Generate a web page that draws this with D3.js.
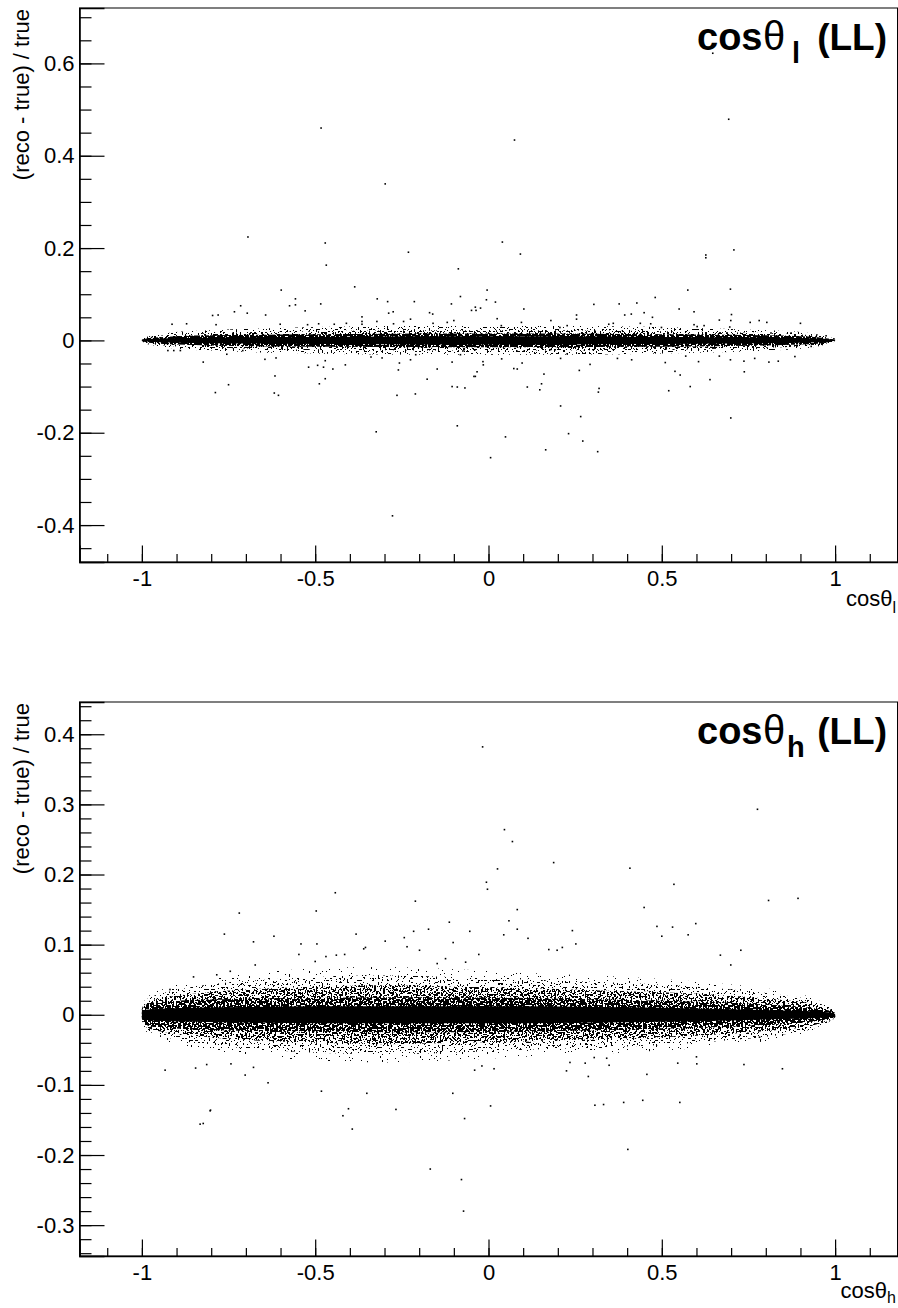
<!DOCTYPE html>
<html><head><meta charset="utf-8">
<script src="https://cdn.jsdelivr.net/npm/d3@7"></script>
<style>body{margin:0;background:#fff}svg{display:block}text{font-family:"Liberation Sans",Arial,sans-serif}</style>
</head><body><svg id="c" width="898" height="1308"></svg>
<script>
// ---------- DATA ----------
// Panel 1: cos theta_l (LL) — band envelopes (half-widths) of the dense event band
const bandX1  = [-1, -0.98, -0.95, -0.9, -0.8, -0.6, -0.4, -0.2, 0, 0.2, 0.4, 0.6, 0.8, 0.9, 0.95, 0.98, 1];
const solid1  = [0.001, 0.003, 0.004, 0.005, 0.006, 0.007, 0.008, 0.009, 0.009, 0.009, 0.008, 0.007, 0.006, 0.005, 0.004, 0.003, 0.001];
const dense1  = [0.002, 0.005, 0.007, 0.009, 0.011, 0.013, 0.014, 0.015, 0.015, 0.015, 0.014, 0.013, 0.011, 0.009, 0.007, 0.004, 0.002];
const mid1    = [0.003, 0.007, 0.01, 0.013, 0.016, 0.019, 0.021, 0.022, 0.022, 0.022, 0.021, 0.019, 0.016, 0.013, 0.01, 0.006, 0.003];
const sparse1 = [0.004, 0.009, 0.013, 0.018, 0.022, 0.027, 0.03, 0.031, 0.031, 0.031, 0.03, 0.027, 0.022, 0.018, 0.013, 0.008, 0.004];
const pts1X = [-0.694,-0.483,-0.471,-0.468,-0.298,-0.231,0.075,0.04,0.092,-0.087,0.627,0.627,0.708,0.693,0.647,
 -0.324,-0.09,0.006,0.049,0.165,0.231,0.266,0.272,0.315,0.699,-0.277,0.208,
 -0.598,-0.386,-0.557,-0.557,-0.574,-0.715,-0.733,-0.696,-0.529,-0.484,-0.321,-0.291,-0.214,-0.081,-0.107,-0.17,-0.161,-0.796,-0.78,-0.643,-0.365,-0.365,-0.365,-0.275,-0.288,-0.225,-0.913,-0.871,-0.786,-0.601,-0.522,-0.49,-0.445,-0.41,-0.322,-0.274,-0.245,-0.16,-0.119,-0.1,-0.049,-0.038,
 -0.925,-0.908,-0.889,-0.823,-0.755,-0.709,-0.645,-0.613,-0.519,-0.493,-0.471,-0.476,-0.449,-0.413,-0.488,-0.471,-0.616,-0.75,-0.788,-0.618,-0.606,-0.339,-0.307,-0.257,-0.26,-0.225,-0.21,-0.177,-0.148,-0.105,-0.081,-0.074,-0.264,-0.211,-0.105,-0.09,-0.068,-0.038,
 -0.004,-0.006,0.02,-0.036,-0.023,0.102,0.304,0.377,0.428,0.481,0.575,0.698,0.55,0.593,0.254,0.254,0.393,0.412,0.449,0.473,0.666,0.701,0.699,0.696,0.755,0.781,0.803,0.9,0.18,0.227,0.206,0.025,0.037,0.095,0.347,0.36,0.438,0.468,0.499,0.593,0.602,0.622,0.815,0.873,0.945,0.974,
 -0.042,-0.033,-0.016,-0.015,0.073,0.083,0.097,0.038,0.112,0.148,0.153,0.16,0.262,0.319,0.317,0.293,0.372,0.413,0.52,0.538,0.553,0.51,0.569,0.582,0.639,0.606,0.666,0.698,0.737,0.738,0.768,0.809,0.836,0.884,0.931,0.179,0.208,0.227];
const pts1Y = [0.224,0.46,0.211,0.163,0.339,0.191,0.434,0.213,0.187,0.155,0.185,0.179,0.196,0.479,0.622,
 -0.198,-0.185,-0.254,-0.209,-0.237,-0.202,-0.165,-0.218,-0.241,-0.168,-0.38,-0.142,
 0.109,0.116,0.09,0.077,0.075,0.075,0.062,0.059,0.064,0.079,0.09,0.084,0.084,0.095,0.079,0.06,0.057,0.054,0.055,0.055,0.051,0.041,0.035,0.062,0.059,0.046,0.035,0.036,0.034,0.035,0.034,0.036,0.035,0.037,0.041,0.036,0.041,0.037,0.039,0.043,0.065,0.072,
 -0.022,-0.022,-0.022,-0.047,-0.03,-0.022,-0.041,-0.038,-0.058,-0.054,-0.044,-0.058,-0.062,-0.053,-0.094,-0.083,-0.077,-0.096,-0.113,-0.114,-0.119,-0.036,-0.038,-0.049,-0.064,-0.042,-0.031,-0.084,-0.062,-0.047,-0.031,-0.023,-0.119,-0.116,-0.1,-0.101,-0.103,-0.078,
 0.109,0.088,0.083,0.065,0.07,0.068,0.078,0.079,0.081,0.093,0.109,0.111,0.068,0.062,0.055,0.046,0.055,0.057,0.06,0.05,0.044,0.056,0.043,0.029,0.039,0.043,0.039,0.037,0.043,0.032,0.028,0.047,0.032,0.039,0.035,0.037,0.037,0.036,0.028,0.034,0.03,0.032,0.016,0.016,0.008,0.01,
 -0.078,-0.068,-0.046,-0.053,-0.061,-0.062,-0.049,-0.04,-0.101,-0.107,-0.094,-0.073,-0.065,-0.104,-0.112,-0.052,-0.039,-0.042,-0.109,-0.067,-0.075,-0.048,-0.034,-0.1,-0.085,-0.046,-0.034,-0.042,-0.045,-0.068,-0.039,-0.047,-0.045,-0.035,-0.013,-0.02,-0.039,-0.029];

// Panel 2: cos theta_h (LL)
const bandX2  = [-1, -0.99, -0.97, -0.93, -0.85, -0.7, -0.5, -0.3, -0.1, 0.1, 0.3, 0.5, 0.7, 0.85, 0.93, 0.97, 0.99, 1];
const solid2  = [0.003, 0.007, 0.008, 0.009, 0.01, 0.011, 0.012, 0.012, 0.012, 0.012, 0.011, 0.01, 0.008, 0.006, 0.005, 0.004, 0.003, 0.001];
const vdense2 = [0.006, 0.014, 0.017, 0.019, 0.021, 0.023, 0.024, 0.025, 0.025, 0.024, 0.022, 0.02, 0.017, 0.013, 0.01, 0.007, 0.005, 0.003];
const dense2  = [0.007, 0.017, 0.021, 0.025, 0.03, 0.036, 0.04, 0.042, 0.04, 0.038, 0.035, 0.032, 0.027, 0.021, 0.016, 0.01, 0.007, 0.004];
const sparse2 = [0.008, 0.02, 0.026, 0.032, 0.04, 0.048, 0.054, 0.056, 0.054, 0.05, 0.047, 0.043, 0.036, 0.028, 0.021, 0.013, 0.008, 0.005];
const faint2  = [0.009, 0.022, 0.03, 0.038, 0.048, 0.058, 0.066, 0.068, 0.065, 0.06, 0.056, 0.051, 0.043, 0.034, 0.025, 0.016, 0.01, 0.006];
const pts2X = [-0.017,0.046,0.069,0.188,0.026,-0.006,-0.003,0.408,0.535,0.776,0.893,-0.442,
 -0.832,-0.823,-0.803,-0.393,-0.168,-0.078,-0.072,0.402,0.332,0.39,0.445,0.552,0.307,0.006,
 -0.719,-0.497,-0.211,-0.762,-0.619,-0.678,-0.541,-0.495,-0.382,-0.298,-0.243,-0.216,-0.173,-0.113,-0.102,-0.054,-0.355,-0.36,-0.235,-0.199,-0.547,-0.5,-0.469,-0.439,-0.415,-0.673,-0.745,-0.784,-0.851,-0.919,-0.148,-0.124,-0.066,-0.028,
 -0.933,-0.845,-0.813,-0.802,-0.743,-0.702,-0.678,-0.636,-0.482,-0.42,-0.404,-0.351,-0.267,-0.103,-0.069,
 0.083,0.449,0.808,0.059,0.083,0.044,0.486,0.531,0.598,0.576,0.5,0.242,0.114,0.728,0.669,0.699,0.174,0.198,0.213,0.252,
 0.288,0.457,0.225,0.235,0.279,0.305,0.341,0.348,0.546,0.601,0.6,0.737,0.848,-0.04,-0.019,0.016,0.782,0.726];
const pts2Y = [0.382,0.264,0.247,0.217,0.208,0.189,0.179,0.209,0.186,0.293,0.166,0.174,
 -0.156,-0.155,-0.137,-0.163,-0.22,-0.235,-0.28,-0.192,-0.128,-0.125,-0.122,-0.125,-0.129,-0.13,
 0.145,0.148,0.162,0.115,0.112,0.104,0.101,0.101,0.115,0.105,0.11,0.119,0.122,0.132,0.103,0.119,0.096,0.094,0.097,0.092,0.086,0.076,0.083,0.085,0.086,0.071,0.062,0.057,0.054,0.036,0.073,0.08,0.075,0.086,
 -0.079,-0.076,-0.071,-0.136,-0.07,-0.086,-0.075,-0.097,-0.109,-0.144,-0.134,-0.112,-0.135,-0.112,-0.148,
 0.15,0.153,0.163,0.134,0.122,0.114,0.126,0.125,0.13,0.114,0.112,0.12,0.109,0.092,0.085,0.071,0.093,0.092,0.096,0.101,
 -0.088,-0.085,-0.08,-0.068,-0.069,-0.061,-0.062,-0.072,-0.069,-0.07,-0.06,-0.071,-0.077,-0.079,-0.073,-0.077,-0.032,-0.029];

const yTicks1 = [-0.4, -0.2, 0, 0.2, 0.4, 0.6];
const yTicks2 = [-0.3, -0.2, -0.1, 0, 0.1, 0.2, 0.3, 0.4];
const xTicks  = [-1, -0.5, 0, 0.5, 1];

// ---------- DRAW ----------
const svg = d3.select("#c");
const defs = svg.append("defs");
// stipple texture (style only): thresholded noise, same seed so layers nest
function speckle(id, thr){
  const f = defs.append("filter").attr("id", id).attr("filterUnits","userSpaceOnUse")
    .attr("x",0).attr("y",0).attr("width",898).attr("height",1308)
    .attr("color-interpolation-filters","sRGB");
  f.append("feTurbulence").attr("type","fractalNoise").attr("baseFrequency",0.55).attr("numOctaves",1).attr("seed",5).attr("result","n");
  f.append("feColorMatrix").attr("in","n").attr("type","matrix")
   .attr("values","0 0 0 0 0  0 0 0 0 0  0 0 0 0 0  1 0 0 0 0").attr("result","a");
  f.append("feComponentTransfer").attr("in","a").attr("result","b")
   .append("feFuncA").attr("type","discrete")
   .attr("tableValues", d3.range(50).map(i => (i/50 >= thr ? 1 : 0)).join(" "));
  f.append("feComposite").attr("in","SourceGraphic").attr("in2","b").attr("operator","in");
}
speckle("p80", 0.40);
speckle("p70", 0.44);
speckle("p45", 0.52);
speckle("p30", 0.56);
speckle("p15", 0.62);
speckle("p05", 0.70);

const fmt = d => String(+d.toFixed(2));
const L = 79.5, R = 897.5;

function panel(o){
  const x = d3.scaleLinear().domain([-1.18, 1.18]).range([L, R]);
  const y = d3.scaleLinear().domain(o.yDom).range([o.bot, o.top]);
  const g = svg.append("g");
  const clip = "clip" + o.id;
  defs.append("clipPath").attr("id", clip).append("rect")
    .attr("x", L).attr("y", o.top).attr("width", R - L).attr("height", o.bot - o.top);
  const pg = g.append("g").attr("clip-path", `url(#${clip})`);

  const area = (half) => d3.area().curve(d3.curveMonotoneX)
     .x((d,i) => x(o.bandX[i])).y0((d,i) => y(-half[i])).y1((d,i) => y(half[i]));
  o.layers.forEach(ly => {
    const p = pg.append("path").datum(ly.half).attr("d", area(ly.half)).attr("fill", "#000");
    if (ly.filter) p.attr("filter", `url(#${ly.filter})`);
  });
  pg.selectAll("rect.pt").data(o.px.map((v,i)=>[v,o.py[i]])).join("rect")
    .attr("class","pt").attr("x", d => x(d[0]) - 0.8).attr("y", d => y(d[1]) - 0.8)
    .attr("width", 1.6).attr("height", 1.6).attr("fill", "#000");

  // frame
  g.append("rect").attr("x", L).attr("y", o.top).attr("width", R - L).attr("height", o.bot - o.top)
    .attr("fill", "none").attr("stroke", "#000").attr("stroke-width", 1);

  // y axis
  const yMin = d3.range(Math.ceil(o.yDom[0]/o.yMinor - 1e-6), Math.floor(o.yDom[1]/o.yMinor + 1e-6) + 1).map(k => +(k*o.yMinor).toFixed(4));
  g.append("g").attr("transform", `translate(${L},0)`)
    .call(d3.axisLeft(y).tickValues(yMin).tickSize(-12).tickFormat(""))
    .call(s => { s.select(".domain").remove(); s.selectAll("line").attr("stroke-width", 1.2); });
  g.append("g").attr("transform", `translate(${L},0)`)
    .call(d3.axisLeft(y).tickValues(o.yTicks).tickSize(-25).tickPadding(5).tickFormat(fmt))
    .call(s => { s.select(".domain").attr("stroke-width", 1.6);
                 s.selectAll("line").attr("stroke-width", 1.2);
                 s.selectAll("text").attr("font-size", 22).attr("fill", "#000")
                   .attr("font-family", '"Liberation Sans",Arial,sans-serif'); });
  // x axis
  const xMin = d3.range(-11, 12).map(k => +(k*0.1).toFixed(2));
  g.append("g").attr("transform", `translate(0,${o.bot})`)
    .call(d3.axisBottom(x).tickValues(xMin).tickSize(-8).tickFormat(""))
    .call(s => { s.select(".domain").remove(); s.selectAll("line").attr("stroke-width", 1.2); });
  g.append("g").attr("transform", `translate(0,${o.bot})`)
    .call(d3.axisBottom(x).tickValues(xTicks).tickSize(-16.5).tickPadding(8.5).tickFormat(fmt))
    .call(s => { s.select(".domain").attr("stroke-width", 1.6);
                 s.selectAll("line").attr("stroke-width", 1.2);
                 s.selectAll("text").attr("font-size", 22).attr("fill", "#000")
                   .attr("font-family", '"Liberation Sans",Arial,sans-serif'); });

  // y title
  svg.append("text").attr("transform", `translate(29,${o.top + 1}) rotate(-90)`)
    .attr("text-anchor", "end").attr("font-size", 22).text("(reco - true) / true");
  // x title
  const xt = svg.append("text").attr("x", 896).attr("y", o.bot + o.xtDy).attr("text-anchor", "end").attr("font-size", 22);
  xt.append("tspan").text("cosθ");
  xt.append("tspan").attr("font-size", 16).attr("dy", o.subDy).text(o.sub);
  // panel title (pieces placed like ROOT's TLatex)
  const by = o.top + 42;
  svg.append("text").attr("x", 697).attr("y", by).attr("font-size", 38).attr("font-weight", "bold").text("cos");
  svg.append("text").attr("x", 763).attr("y", by).attr("font-size", 40).text("θ");
  svg.append("text").attr("x", o.subX).attr("y", by + 13).attr("font-size", 29).attr("font-weight", "bold").text(o.sub);
  svg.append("text").attr("x", 887).attr("y", by).attr("text-anchor", "end").attr("font-size", 37).attr("font-weight", "bold").text("(LL)");
}

panel({id:1, top:8, bot:562, yDom:[-0.48, 0.72], yMinor:0.05, yTicks:yTicks1, sub:"l",
  xtDy:44, subDy:7, subX:792,
  bandX:bandX1, layers:[{half:sparse1, filter:"p15"}, {half:mid1, filter:"p30"}, {half:dense1, filter:"p80"}, {half:solid1}],
  px:pts1X, py:pts1Y});
panel({id:2, top:702, bot:1256, yDom:[-0.344, 0.446], yMinor:0.02, yTicks:yTicks2, sub:"h",
  xtDy:42, subDy:5, subX:787,
  bandX:bandX2, layers:[{half:faint2, filter:"p05"}, {half:sparse2, filter:"p15"}, {half:dense2, filter:"p45"}, {half:vdense2, filter:"p70"}, {half:solid2}],
  px:pts2X, py:pts2Y});
</script></body></html>
